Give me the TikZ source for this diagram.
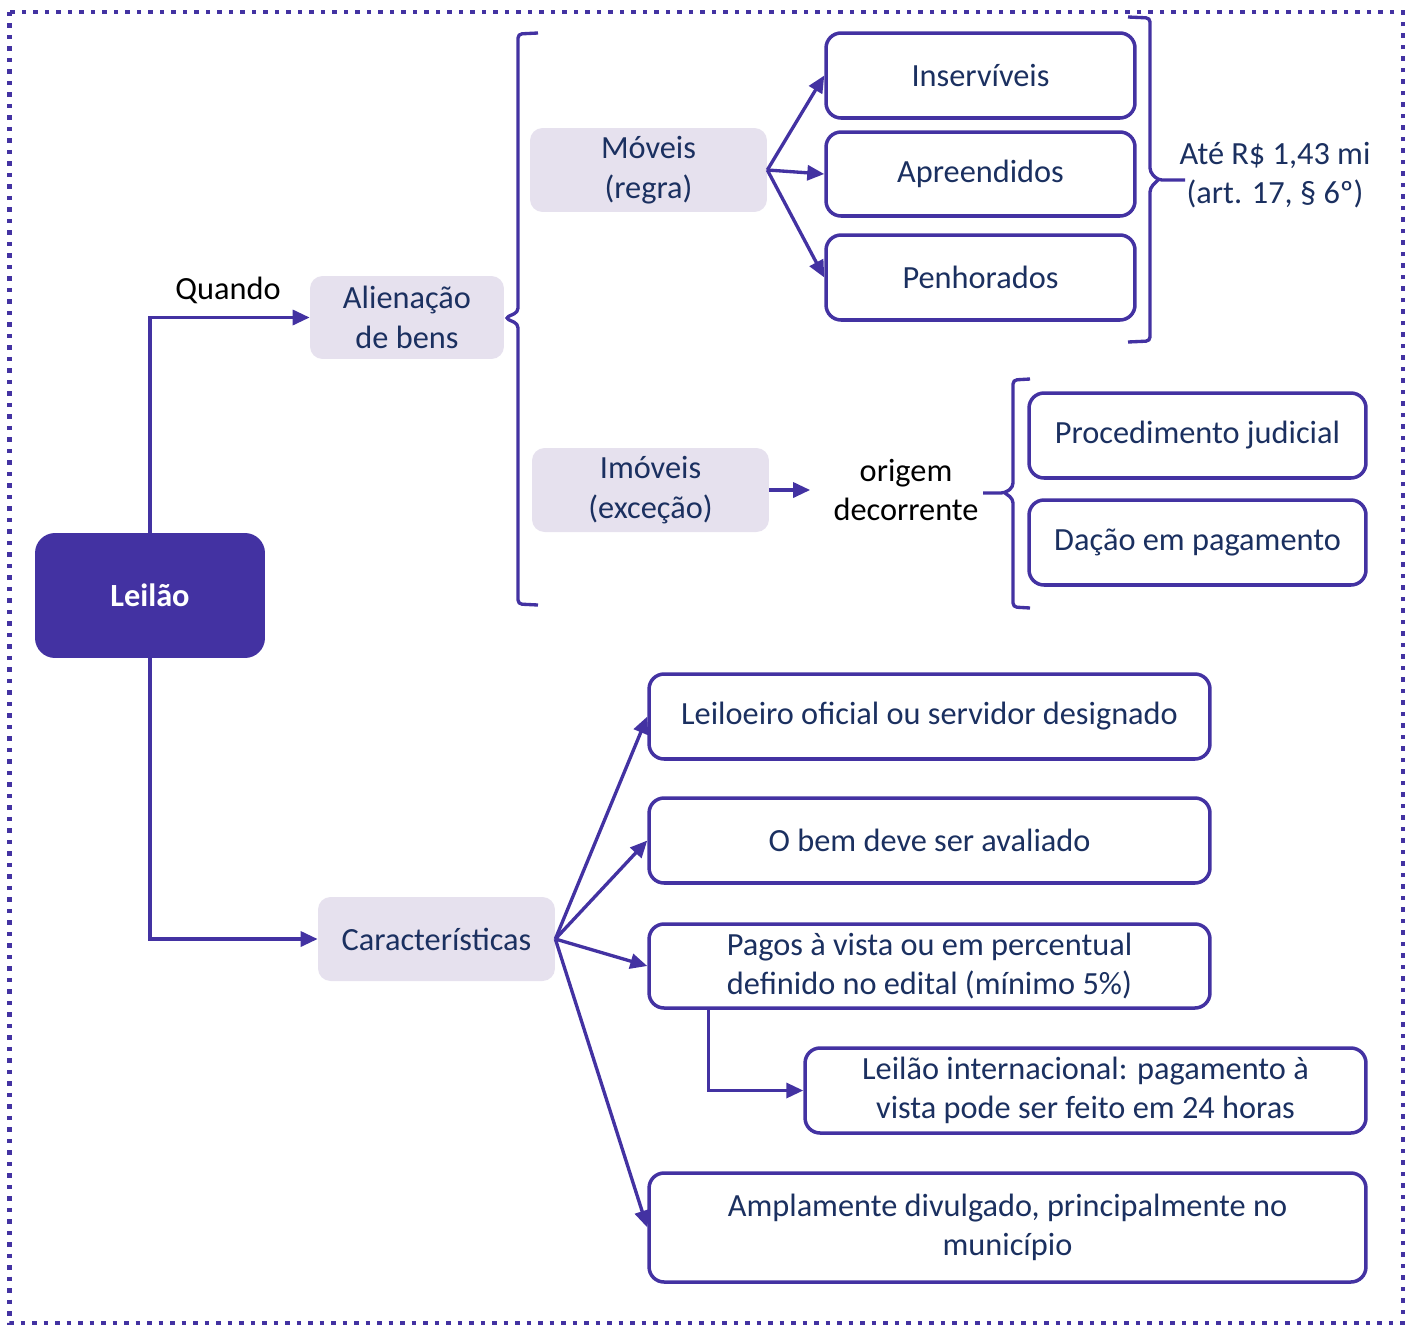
\documentclass[tikz,border=0pt]{standalone}
\usepackage{fontspec}
\setmainfont{Carlito}
\usetikzlibrary{arrows.meta,calc}
\definecolor{pur}{HTML}{4332A2}
\definecolor{lightp}{HTML}{E6E1EE}
\definecolor{navy}{HTML}{1B3060}
\begin{document}
\begin{tikzpicture}[x=0.02cm,y=-0.02cm,
  txt/.style={font=\fontsize{18.4}{22.6}\selectfont},
  box/.style={txt, draw=pur, line width=2pt, rounded corners=0.3cm, fill=white, text=navy, align=center, inner sep=0pt},
  soft/.style={txt, fill=lightp, rounded corners=0.25cm, text=navy, align=center, inner sep=0pt},
  conn/.style={draw=pur, line width=1.9pt, -{Triangle[length=0.34cm,width=0.3cm]}},
  bracestyle/.style={draw=pur, line width=1.9pt, rounded corners=0.08cm}]
\useasboundingbox (0,0) rectangle (1412,1325);
\draw[pur, line width=0.09cm, dash pattern=on 0.09cm off 0.14cm] (9.5,12) rectangle (1403,1323);

% main node
\node[fill=pur, rounded corners=0.4cm, text=white, minimum width=4.6cm, minimum height=2.5cm, inner sep=0pt, font=\fontsize{18.4}{22.6}\selectfont\bfseries] (leilao) at (150,595.5) {Leilão};

% soft boxes
\node[soft, minimum width=3.88cm, minimum height=1.66cm] (alien) at (407,317.5) {Alienação\\de bens};
\node[soft, minimum width=4.74cm, minimum height=1.68cm] (mov) at (648.5,170) {Móveis\\(regra)};
\node[soft, minimum width=4.74cm, minimum height=1.68cm] (imov) at (650.5,490) {Imóveis\\(exceção)};
\node[soft, minimum width=4.74cm, minimum height=1.68cm] (carac) at (436.5,939) {Características};

% labels
\node[txt, text=black, inner sep=0pt] (quando) at (228,290) {Quando};
\node[txt, text=navy, align=center, inner sep=0pt] (ate) at (1275,175) {Até R\$ 1,43 mi\\(art. 17, § 6º)};
\node[txt, text=black, align=center, inner ysep=0pt, inner xsep=0.46cm] (origem) at (906,490) {origem\\decorrente};

% outlined boxes
\node[box, minimum width=6.18cm, minimum height=1.7cm] (inserv) at (980.5,75.5) {Inservíveis};
\node[box, minimum width=6.18cm, minimum height=1.68cm] (apre) at (980.5,174) {Apreendidos};
\node[box, minimum width=6.18cm, minimum height=1.7cm] (penh) at (980.5,277.5) {Penhorados};
\node[box, minimum width=6.74cm, minimum height=1.7cm] (proc) at (1197.5,435.5) {Procedimento judicial};
\node[box, minimum width=6.74cm, minimum height=1.7cm] (dacao) at (1197.5,542.5) {Dação em pagamento};
\node[box, minimum width=11.22cm, minimum height=1.7cm] (leil) at (929.5,716.5) {Leiloeiro oficial ou servidor designado};
\node[box, minimum width=11.22cm, minimum height=1.7cm] (obem) at (929.5,840.5) {O bem deve ser avaliado};
\node[box, minimum width=11.22cm, minimum height=1.68cm] (pagos) at (929.5,966) {Pagos à vista ou em percentual\\definido no edital (mínimo 5\%)};
\node[box, minimum width=11.22cm, minimum height=1.7cm] (intl) at (1085.5,1090.5) {Leilão internacional: pagamento à\\vista pode ser feito em 24 horas};
\node[box, minimum width=14.34cm, minimum height=2.18cm] (ampl) at (1007.5,1227.5) {Amplamente divulgado, principalmente no\\município};

% connectors
\draw[conn] (leilao.north) |- (alien.west);
\draw[conn] (leilao.south) |- (carac.west);
\draw[conn] (mov.east) -- (inserv.west);
\draw[conn] (mov.east) -- (apre.west);
\draw[conn] (mov.east) -- (penh.west);
\draw[conn] (imov.east) -- (origem.west);
\draw[conn] (carac.east) -- (leil.west);
\draw[conn] (carac.east) -- (obem.west);
\draw[conn] (carac.east) -- (pagos.west);
\draw[conn] (carac.east) -- (ampl.west);
\coordinate (pagdrop) at ($(pagos.south west)+(61,0)$);
\draw[conn] (pagdrop) |- (intl.west);

% braces
\draw[bracestyle] (538,33) -- (518,34) -- (518,312) -- (505,318) -- (518,324) -- (518,604) -- (538,605);
\draw[bracestyle] (1128,17) -- (1150,18) -- (1150,172) -- (1158,180) -- (1185,180);
\draw[bracestyle] (1158,180) -- (1150,188) -- (1150,341) -- (1128,342);
\draw[bracestyle] (1030,379) -- (1013,380) -- (1013,487) -- (1005,493) -- (983,493);
\draw[bracestyle] (1005,493) -- (1013,499) -- (1013,607) -- (1030,608);
\end{tikzpicture}
\end{document}
